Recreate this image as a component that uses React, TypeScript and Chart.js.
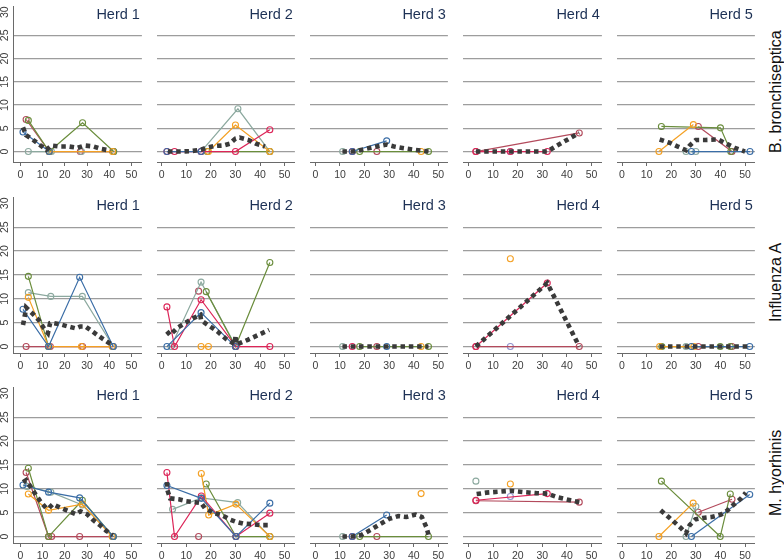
import React, { useEffect, useRef } from 'react';
import Chart from 'chart.js/auto';

type Pts = [number, number][];
type PigId = 'A' | 'B' | 'C' | 'D' | 'E' | 'F' | 'G';
type Pigs = Partial<Record<PigId, Pts>>;

const HERDS = ['Herd 1', 'Herd 2', 'Herd 3', 'Herd 4', 'Herd 5'];
const PATHOGENS = ['B. bronchiseptica', 'Influenza A', 'M. hyorhinis'];
const X_TICKS = [0, 10, 20, 30, 40, 50];
const Y_TICKS = [0, 5, 10, 15, 20, 25, 30];

// B. bronchiseptica
const bbHerd1: Pigs = {
  A: [[1.2, 4.2], [13, 0]],
  F: [[2.6, 6.9], [13, 0], [27, 0], [42, 0]],
  D: [[3.6, 6.7], [13, 0], [28, 6.2], [42, 0]],
  E: [[3.6, 0], [14, 0], [27.5, 0], [42, 0]],
  C: [[13, 0], [41.5, 0]],
};
const bbHerd1Mean: Pts = [[1.2, 5.2], [2.6, 3.5], [5.5, 2.6], [9.1, 1.3], [11.7, 0.4], [14.1, 1.3], [17.7, 1.1], [21.6, 1.1], [25.7, 0.8], [28.9, 1.3], [32.9, 1.1], [36.5, 0.55], [40.5, 0.2]];
const bbHerd2: Pigs = {
  A: [[2.1, 0], [16, 0]],
  B: [[2.1, 0], [5.2, 0], [16, 0], [30, 0], [44, 4.7]],
  E: [[16, 0], [31, 9.2], [44, 0]],
  C: [[19, 0], [30, 5.7], [44, 0]],
  D: [[18.5, 0], [44, 0]],
};
const bbHerd2Mean: Pts = [[2.5, 0], [8, 0], [12, 0.1], [16, 0.4], [18, 0.8], [21.4, 1.2], [25, 1.3], [27.7, 1.7], [30, 2.8], [31.7, 3], [35.2, 2.5], [38.3, 1.7], [42, 1.1]];
const bbHerd3: Pigs = {
  E: [[11.1, 0]],
  B: [[15, 0]],
  A: [[15, 0], [29, 2.3]],
  D: [[18, 0], [46, 0]],
  F: [[25, 0]],
  C: [[43, 0]],
};
const bbHerd3Mean: Pts = [[11, 0], [15, 0], [18, 0.3], [22.5, 0.8], [26, 1.2], [29, 1.5], [32, 1.1], [36, 0.7], [40, 0.4], [43, 0.2], [46, 0]];
const bbHerd4: Pigs = {
  B: [[3, 0], [17, 0], [32, 0]],
  F: [[3, 0], [45, 4]],
  G: [[17, 0]],
};
const bbHerd4Mean: Pts = [[3, 0], [10, 0], [17, 0], [24, 0], [32, 0], [36, 1.3], [40, 2.5], [45, 4]];
const bbHerd5: Pigs = {
  D: [[16, 5.4], [40, 5.1], [44.2, 0]],
  C: [[15, 0], [29, 5.8]],
  F: [[31, 5.4], [44.7, 0]],
  E: [[26, 0], [30, 0]],
  A: [[28.2, 0], [52, 0]],
};
const bbHerd5Mean: Pts = [[15.3, 2.6], [19.3, 1.9], [22.5, 1.1], [26, 0.3], [27.5, 1.3], [30, 2.5], [34, 2.5], [39, 2.6], [42, 1.8], [45.8, 0.8], [50, 0]];

// Influenza A
const fluHerd1: Pigs = {
  D: [[3.6, 14.7], [12.7, 0]],
  E: [[3.6, 11.3], [13.7, 10.5], [27.9, 10.5], [41.8, 0]],
  C: [[3.6, 10.3], [12.7, 0], [27.5, 0], [41.3, 0]],
  A: [[1.2, 7.8], [12.7, 0], [26.7, 14.5], [41.8, 0]],
  F: [[2.6, 0], [13.5, 0], [28, 0], [41.8, 0]],
};
const fluHerd1Mean: Pts = [[1.2, 4.5], [2, 6.4], [2.6, 8.2], [5.5, 6.9], [8.4, 5.5], [10.5, 3.9], [12.4, 2.8], [13.4, 4.9], [14, 5], [17.7, 4.7], [21.4, 4.2], [25, 3.8], [27, 4.2], [29.3, 4.2], [32.9, 3], [36.5, 1.8], [39.4, 0.9], [41.6, 0.3]];
const fluHerd2: Pigs = {
  B: [[2.1, 8.3], [5.2, 0], [16, 9.8], [30.2, 0], [44, 0]],
  F: [[15, 11.6]],
  E: [[3.8, 0], [16, 13.5], [30.2, 0]],
  D: [[18.1, 11.5], [30, 0], [44, 17.6]],
  A: [[2.1, 0], [16, 7.1], [30, 0]],
  C: [[16, 0], [19, 0]],
};
const fluHerd2Mean: Pts = [[2.1, 3.2], [3.4, 2.4], [6.3, 3.9], [9.4, 4.9], [12.6, 5.9], [15.7, 6.6], [16, 5.5], [18.8, 4.5], [22.6, 3.2], [26.4, 1.5], [29.8, 0.5], [30, 2.3], [30.4, 0.4], [35, 1.4], [39.6, 2.5], [43.7, 3.5]];
const fluHerd3: Pigs = {
  E: [[11.1, 0]],
  B: [[15, 0]],
  D: [[18, 0], [46, 0]],
  F: [[25, 0]],
  A: [[29, 0]],
  C: [[43, 0]],
};
const fluHerd3Mean: Pts = [[11, 0], [15, 0], [18, 0], [25, 0], [29, 0], [43, 0], [46, 0]];
const fluHerd4: Pigs = {
  C: [[17, 18.4]],
  G: [[17, 0]],
  B: [[3, 0], [32, 13.3]],
  F: [[3, 0], [45, 0]],
};
const fluHerd4Mean: Pts = [[3, 0], [32, 13.3], [45, 0]];
const fluHerd5: Pigs = {
  C: [[15.3, 0], [29.2, 0]],
  D: [[16.2, 0], [39.9, 0], [44, 0]],
  E: [[26, 0]],
  A: [[28.2, 0], [51.9, 0]],
  F: [[31, 0], [44.7, 0]],
};
const fluHerd5Mean: Pts = [[15.3, 0], [20, 0], [26, 0], [31, 0], [40, 0], [45, 0], [51.9, 0]];

// M. hyorhinis
const mhHerd1: Pigs = {
  F: [[2.6, 13.4], [12.7, 0], [14.1, 0], [26.7, 0], [41.8, 0]],
  D: [[3.6, 14.3], [12.7, 0], [27.9, 7.6], [41.8, 0]],
  A: [[1.2, 10.8], [12.7, 9.3], [26.7, 8.1], [41.8, 0]],
  E: [[3, 10.5], [13.7, 9.3], [27.9, 6.6], [41.8, 0]],
  C: [[3.6, 8.9], [12.7, 5.5], [27.9, 6.8], [41.3, 0]],
};
const mhHerd1Mean: Pts = [[1.2, 11.4], [2.6, 11.8], [4.8, 10.3], [6.9, 8.8], [9.1, 7.3], [11.7, 5.9], [12.7, 5.9], [14.6, 6.8], [17.7, 6.1], [21.4, 5.4], [25, 4.7], [27.1, 5.3], [30, 4.7], [32.9, 3.4], [35.8, 2.4], [38.7, 1.2], [41.6, 0.3]];
const mhHerd2: Pigs = {
  B: [[2.1, 13.4], [5.2, 0], [16.1, 8.5], [30.2, 0], [44, 4.9]],
  F: [[15, 0]],
  A: [[2.1, 10.7], [16.1, 8], [30.2, 0], [44, 7]],
  E: [[4.4, 5.7], [16.1, 8.1], [30.9, 7.1], [44, 0]],
  C: [[16.1, 13.2], [19.1, 4.5], [30.2, 6.8], [44, 0]],
  D: [[18.1, 11], [30.2, 0], [44, 0]],
};
const mhHerd2Mean: Pts = [[2.1, 11.4], [2.3, 9.7], [3.4, 8], [6.9, 7.8], [10, 7.4], [13.6, 7.2], [16.1, 7], [17.6, 5.9], [21.4, 4.9], [24.5, 4.5], [27.6, 3.6], [30.2, 3.1], [33.3, 2.7], [36.7, 2.6], [40.2, 2.4], [43.7, 2.4]];
const mhHerd3: Pigs = {
  E: [[11.1, 0]],
  B: [[15, 0]],
  A: [[15, 0], [29, 4.5]],
  D: [[18, 0], [46, 0]],
  F: [[25, 0]],
  C: [[43, 9]],
};
const mhHerd3Mean: Pts = [[11, 0], [15, 0], [18.7, 0.3], [22.5, 1.4], [26.3, 2.6], [30, 3.7], [33.8, 4.3], [37, 4.1], [40.8, 4.6], [43.3, 4.1], [45.2, 1.9], [46, 0.4]];
const mhHerd4: Pigs = {
  E: [[3, 11.6]],
  C: [[17, 11]],
  G: [[17, 8.4]],
  B: [[3, 7.6], [32, 9]],
  F: [[3, 7.5], [45, 7.2]],
};
const mhHerd4Mean: Pts = [[3.3, 8.9], [7.3, 9.2], [12.4, 9.4], [17, 9.6], [22.5, 9.3], [27.5, 9.1], [32, 9], [36.4, 8.2], [41.4, 7.6], [45, 7.2]];
const mhHerd5: Pigs = {
  D: [[16, 11.6], [39.9, 0], [44, 8.9]],
  C: [[15, 0], [28.9, 7]],
  E: [[26, 0], [30, 6.3]],
  A: [[28.2, 0], [51.9, 8.8]],
  F: [[31, 5.1], [44.7, 7.8]],
};
const mhHerd5Mean: Pts = [[15.7, 5.5], [18.9, 4.1], [23.7, 1.9], [26, 0.7], [27.5, 2.4], [29.8, 3.6], [32.8, 3.9], [36.4, 4.1], [40.2, 4.6], [42.7, 5.4], [45.2, 6.6], [48.4, 8], [50.3, 9.2]];

const PANEL_PIGS: Pigs[][] = [
  [bbHerd1, bbHerd2, bbHerd3, bbHerd4, bbHerd5],
  [fluHerd1, fluHerd2, fluHerd3, fluHerd4, fluHerd5],
  [mhHerd1, mhHerd2, mhHerd3, mhHerd4, mhHerd5],
];
const PANEL_MEANS: Pts[][] = [
  [bbHerd1Mean, bbHerd2Mean, bbHerd3Mean, bbHerd4Mean, bbHerd5Mean],
  [fluHerd1Mean, fluHerd2Mean, fluHerd3Mean, fluHerd4Mean, fluHerd5Mean],
  [mhHerd1Mean, mhHerd2Mean, mhHerd3Mean, mhHerd4Mean, mhHerd5Mean],
];

// styles / layout
const PIG_IDS: PigId[] = ['A', 'B', 'C', 'D', 'E', 'F', 'G'];
const PIG_COLORS: Record<PigId, string> = {
  A: '#3a6da6',
  B: '#dc2558',
  C: '#f4a023',
  D: '#6a8d3c',
  E: '#8ca99f',
  F: '#b34a5c',
  G: '#9090cc',
};
const MEAN_COLOR = '#3a3a3a';
const GRID_COLOR = '#9d9d9d';
const AXIS_COLOR = '#6a6a6a';
const TICK_COLOR = '#3d3d3d';
const TITLE_COLOR = '#1d3155';
const FONT = '"Liberation Sans", Arial, Helvetica, sans-serif';

const COL_LEFT = [0, 152, 305, 458, 612];
const COL_WIDTH = [147, 148, 148, 149, 148];
const X_RANGE = [[-3.3, 54.7], [-1.9, 54.2], [-2.15, 53.9], [-2.2, 54.2], [-2.0, 54.0]];
const Y_AXIS_W = 13;
const ROW_TOP = [1, 192, 382];
const PLOT_H = 161;
const X_AXIS_H = 20;
const Y_MIN = [-2.25, -1.35, -1.35];
const Y_MAX = 31.3;

const panelTitle = {
  id: 'panelTitle',
  afterDraw(chart: any, _args: any, opts: any) {
    const { ctx, chartArea } = chart;
    ctx.save();
    ctx.font = `14.5px ${FONT}`;
    ctx.fillStyle = TITLE_COLOR;
    ctx.textAlign = 'right';
    ctx.textBaseline = 'middle';
    ctx.fillText(opts.text, chartArea.right - 2, chartArea.top + 9);
    ctx.restore();
  },
};

const Panel = ({ row, col }: { row: number; col: number }) => {
  const canvasRef = useRef<HTMLCanvasElement>(null);

  useEffect(() => {
    const canvas = canvasRef.current;
    if (!canvas) return;
    const pigs = PANEL_PIGS[row][col];
    const mean = PANEL_MEANS[row][col];
    const first = col === 0;

    const datasets: any[] = [
      {
        label: 'mean',
        data: mean.map(([x, y]) => ({ x, y })),
        showLine: true,
        borderColor: MEAN_COLOR,
        borderWidth: 4.6,
        borderDash: [4.5, 3.8],
        pointRadius: 0,
        order: 0,
      },
    ];
    PIG_IDS.forEach((id) => {
      const pts = pigs[id];
      if (!pts) return;
      datasets.push({
        label: id,
        data: pts.map(([x, y]) => ({ x, y })),
        showLine: true,
        borderColor: PIG_COLORS[id],
        borderWidth: 1.2,
        pointRadius: 3,
        pointBorderWidth: 1.1,
        pointBorderColor: PIG_COLORS[id],
        pointBackgroundColor: 'rgba(0,0,0,0)',
        order: 1,
      });
    });

    const chart = new Chart(canvas, {
      type: 'scatter',
      data: { datasets },
      options: {
        animation: false,
        responsive: true,
        maintainAspectRatio: false,
        layout: { padding: 0 },
        scales: {
          x: {
            type: 'linear',
            min: X_RANGE[col][0],
            max: X_RANGE[col][1],
            afterBuildTicks: (s: any) => {
              s.ticks = X_TICKS.map((v) => ({ value: v }));
            },
            afterFit: (s: any) => {
              s.height = X_AXIS_H;
              s.paddingLeft = 0;
              s.paddingRight = 0;
            },
            grid: { display: true, drawOnChartArea: false, drawTicks: true, tickLength: 4, color: AXIS_COLOR, lineWidth: 1 },
            border: { display: true, color: AXIS_COLOR, width: 1 },
            ticks: { font: { family: FONT, size: 10.5 }, color: TICK_COLOR, padding: 3, maxRotation: 0, autoSkip: false },
          },
          y: {
            type: 'linear',
            min: Y_MIN[row],
            max: Y_MAX,
            afterBuildTicks: (s: any) => {
              s.ticks = Y_TICKS.map((v) => ({ value: v }));
            },
            afterFit: (s: any) => {
              s.width = first ? Y_AXIS_W : 0;
              s.paddingTop = 0;
              s.paddingBottom = 0;
            },
            grid: {
              display: true,
              drawTicks: false,
              color: (c: any) => (c.tick && c.tick.value === 30 ? 'rgba(0,0,0,0)' : GRID_COLOR),
              lineWidth: 1.3,
            },
            border: { display: first, color: AXIS_COLOR, width: 1 },
            ticks: {
              display: first,
              font: { family: FONT, size: 10.5 },
              color: TICK_COLOR,
              padding: 2,
              minRotation: 90,
              maxRotation: 90,
              crossAlign: 'center',
            },
          },
        },
        plugins: {
          legend: { display: false },
          tooltip: { enabled: false },
          panelTitle: { text: HERDS[col] },
        } as any,
      },
      plugins: [panelTitle],
    });

    return () => {
      chart.destroy();
    };
  }, [row, col]);

  return (
    <div
      style={{
        position: 'absolute',
        left: COL_LEFT[col],
        top: ROW_TOP[row],
        width: COL_WIDTH[col],
        height: PLOT_H + X_AXIS_H,
      }}
    >
      <canvas ref={canvasRef}></canvas>
    </div>
  );
};

const App = () => {
  return (
    <div
      style={{
        position: 'absolute',
        left: 0,
        top: 0,
        width: 784,
        height: 560,
        background: '#fff',
        fontFamily: FONT,
        overflow: 'hidden',
      }}
    >
      {PATHOGENS.map((name, row) => (
        <React.Fragment key={name}>
          {HERDS.map((h, col) => (
            <Panel key={h} row={row} col={col} />
          ))}
          <div
            style={{
              position: 'absolute',
              left: 766,
              top: ROW_TOP[row],
              width: 20,
              height: PLOT_H + X_AXIS_H,
              writingMode: 'vertical-rl',
              transform: 'rotate(180deg)',
              textAlign: 'center',
              fontSize: 16,
              lineHeight: '20px',
              color: '#111',
            }}
          >
            {name}
          </div>
        </React.Fragment>
      ))}
    </div>
  );
};

export default App;
